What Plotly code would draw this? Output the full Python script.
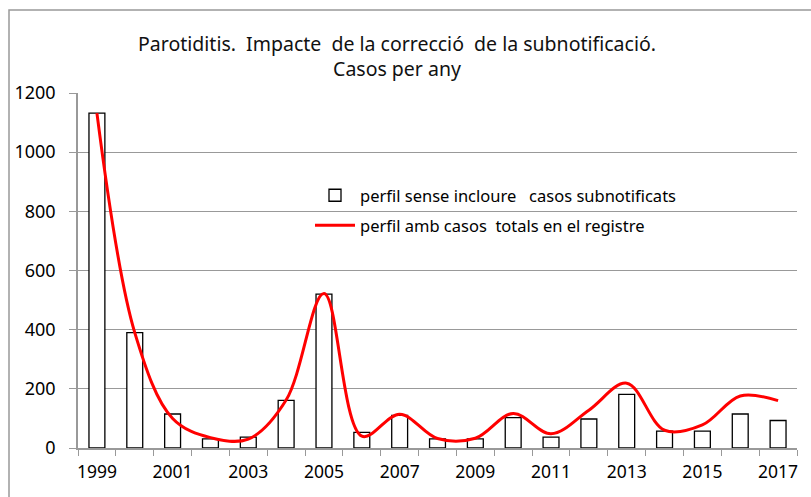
import plotly.graph_objects as go

years = list(range(1999, 2018))
bar_values = [1132, 390, 115, 31, 37, 161, 520, 53, 110, 31, 31, 103, 37, 98, 181, 57, 57, 115, 93]
line_values = [1132, 390, 100, 35, 30, 162, 522, 40, 114, 32, 33, 117, 48, 128, 219, 60, 78, 176, 160]
tick_years = list(range(1999, 2018, 2))

title_text = "Parotiditis.\u00a0 Impacte\u00a0 de la correcció\u00a0 de la subnotificació.<br>Casos per any"
bar_name = "perfil sense incloure\u00a0\u00a0 casos subnotificats"
line_name = "perfil amb casos\u00a0 totals en el registre"

W, H = 811, 497
L, R, T, B = 78, 14, 93, 49
pw, ph = W - L - R, H - T - B

fig = go.Figure()
fig.add_trace(go.Bar(
    x=years, y=bar_values, name=bar_name, width=0.42,
    marker=dict(color="white", line=dict(color="black", width=1.3)),
    legend="legend",
))
fig.add_trace(go.Scatter(
    x=years, y=line_values, name=line_name, mode="lines",
    line=dict(color="#ff0000", width=3, shape="spline", smoothing=1.0),
    legend="legend2",
))

fig.update_layout(
    width=W, height=H,
    margin=dict(l=L, r=R, t=T, b=B, autoexpand=False),
    paper_bgcolor="white", plot_bgcolor="white",
    font=dict(family="Noto Sans", color="black"),
    title=dict(text=title_text, x=397 / W, xanchor="center", xref="container",
               y=1 - 50.5 / H, yanchor="middle", font=dict(size=19.5, color="#111111")),
    showlegend=True,
    legend=dict(x=(310 - L) / pw, y=(448 - 178) / ph, xanchor="left", yanchor="top",
                bgcolor="rgba(0,0,0,0)", font=dict(size=16.5), itemwidth=40),
    legend2=dict(x=(310 - L) / pw, y=(448 - 208) / ph, xanchor="left", yanchor="top",
                 bgcolor="rgba(0,0,0,0)", font=dict(size=16.5), itemwidth=40),
    xaxis=dict(range=[1998.5, 2017.5], tickvals=tick_years, ticktext=[str(y) for y in tick_years],
               ticks="", showline=True, linecolor="#999999", linewidth=1.5, showgrid=False,
               tickfont=dict(size=17.5), zeroline=False, ticklabelstandoff=7,
               minor=dict(tick0=1998.5, dtick=1, ticks="outside", ticklen=6, tickcolor="#999999",
                          tickwidth=1.3, showgrid=False)),
    yaxis=dict(range=[0, 1200], dtick=200, ticks="outside", ticklen=7, tickcolor="#999999",
               tickwidth=1.3, showline=True, linecolor="#999999", linewidth=1.5,
               showgrid=True, gridcolor="#999999", gridwidth=1.3, zeroline=False,
               tickfont=dict(size=18), ticklabelstandoff=10),
    shapes=[dict(type="rect", xref="paper", yref="paper",
                 x0=(9 - L) / pw, x1=(W + 5 - L) / pw, y0=-(H + 5 - 448) / ph, y1=(448 - 10) / ph,
                 line=dict(color="#999999", width=1.5), fillcolor="rgba(0,0,0,0)", layer="below")],
)

fig.write_html("out.html", config={"displayModeBar": False},
               post_script="document.body.style.margin='0';")
